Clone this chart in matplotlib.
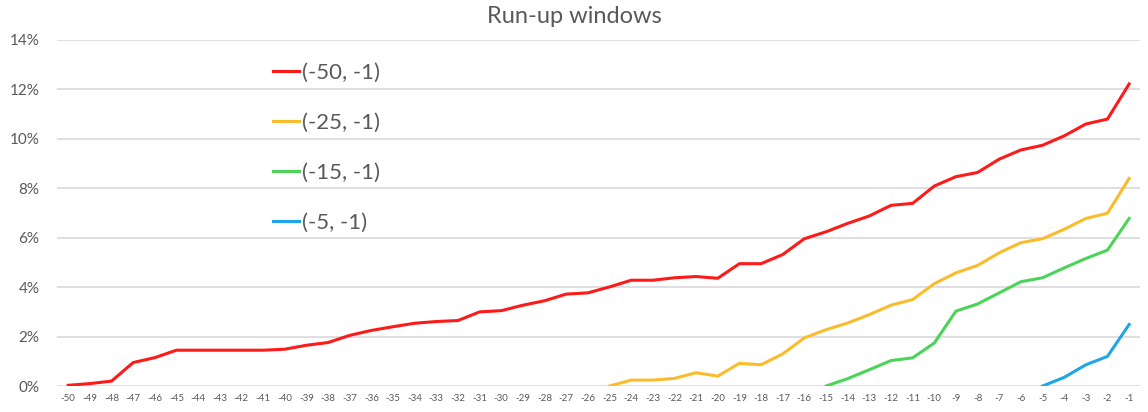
import matplotlib
matplotlib.use("Agg")
import matplotlib.pyplot as plt
from matplotlib.ticker import PercentFormatter

plt.rcParams['font.family'] = ['Lato', 'DejaVu Sans']

# run-up day offsets
days = list(range(-50, 0))

# cumulative return (%) per window
red_50 = [0.03, 0.1, 0.2, 0.95, 1.15, 1.45, 1.45, 1.45, 1.45, 1.45,
          1.49, 1.65, 1.76, 2.05, 2.25, 2.4, 2.54, 2.61, 2.65, 3.0,
          3.05, 3.27, 3.45, 3.72, 3.77, 4.01, 4.28, 4.28, 4.38, 4.43,
          4.36, 4.95, 4.95, 5.32, 5.96, 6.24, 6.58, 6.88, 7.31, 7.39,
          8.09, 8.47, 8.64, 9.18, 9.55, 9.74, 10.12, 10.6, 10.8, 12.22]
yellow_25 = [0.0, 0.24, 0.24, 0.31, 0.54, 0.4, 0.92, 0.86, 1.3, 1.95,
             2.28, 2.55, 2.89, 3.27, 3.5, 4.14, 4.58, 4.88, 5.39, 5.8,
             5.96, 6.34, 6.78, 6.99, 8.4]
green_15 = [0.0, 0.3, 0.66, 1.03, 1.14, 1.74, 3.03, 3.32, 3.77, 4.22,
            4.38, 4.78, 5.16, 5.5, 6.78]
blue_5 = [0.0, 0.35, 0.86, 1.2, 2.49]

labels = ['(-50, -1)', '(-25, -1)', '(-15, -1)', '(-5, -1)']
colors = ['#ff1a1a', '#fbbc2c', '#4bd35a', '#1fa6e8']
series = [red_50, yellow_25, green_15, blue_5]

fig = plt.figure(figsize=(11.48, 4.12), dpi=100)
ax = fig.add_axes([0.05, 0.063, 0.943, 0.84])

for vals, lab, col in zip(series, labels, colors):
    ax.plot(days[-len(vals):], vals, color=col, lw=2.2, label=lab,
            solid_joinstyle='round')

ax.set_xlim(-50.5, -0.5)
ax.set_ylim(0, 14)
ax.set_yticks(range(0, 15, 2))
ax.yaxis.set_major_formatter(PercentFormatter(decimals=0))
ax.set_xticks(days)
ax.set_xticklabels([str(d) for d in days])
ax.grid(axis='y', color='#d9d9d9', lw=1.2)
ax.set_axisbelow(True)
for s in ax.spines.values():
    s.set_visible(False)
ax.tick_params(axis='both', length=0, colors='#595959')
ax.tick_params(axis='y', labelsize=11, pad=13)
ax.tick_params(axis='x', labelsize=7, pad=6)

fig.suptitle('Run-up windows', x=0.5, y=0.959, va='center',
             fontsize=17, color='#595959')

leg = ax.legend(loc='upper left', bbox_to_anchor=(0.1995, 0.933), frameon=False,
                fontsize=16, handlelength=1.15, handletextpad=0.15,
                labelspacing=1.35, borderpad=0, borderaxespad=0)
for t in leg.get_texts():
    t.set_color('#595959')

fig.savefig('out.png', dpi=100)
